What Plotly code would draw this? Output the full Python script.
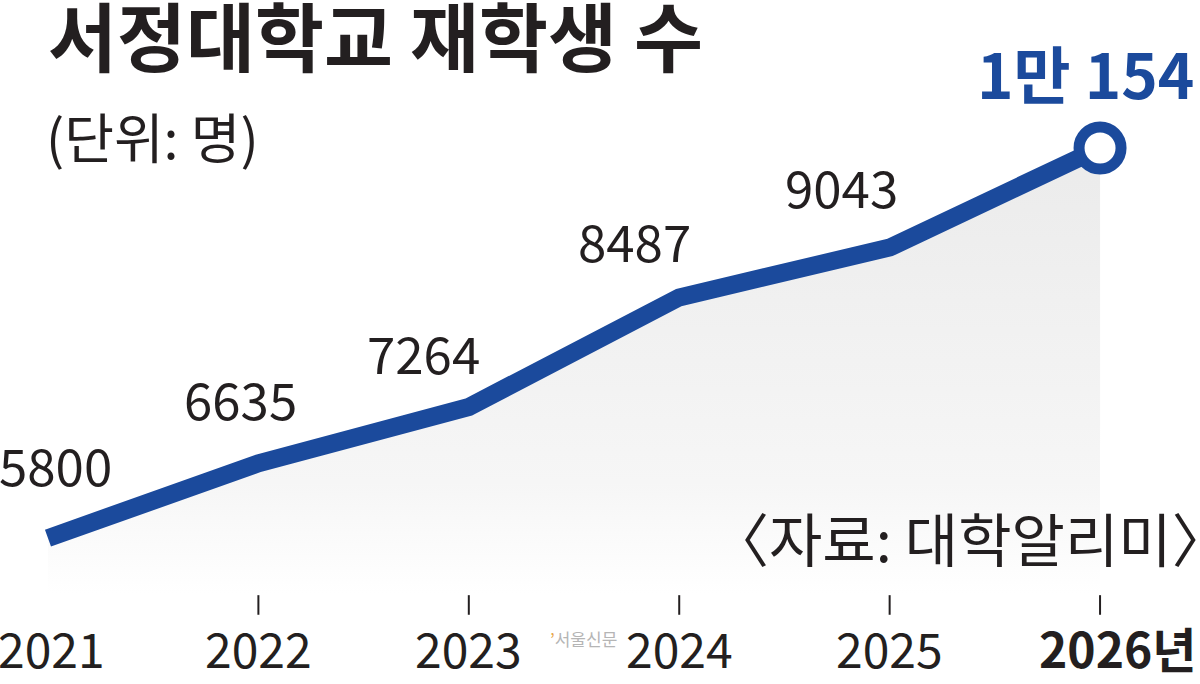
import plotly.graph_objects as go

# 서정대학교 재학생 수 (단위: 명)
years = [2021, 2022, 2023, 2024, 2025, 2026]
students = [5800, 6635, 7264, 8487, 9043, 10154]
value_labels = ["5800", "6635", "7264", "8487", "9043", "1만 154"]
year_labels = ["2021", "2022", "2023", "2024", "2025", "2026년"]

BLUE = "#1b4a9c"
INK = "#231f20"
KR_FONT = "Noto Sans CJK KR"

y_lo, y_hi = 4172, 11806
base = 5180  # bottom of the shaded area
tick_y = 5054  # level of the small tick marks

# label nudges (px) relative to each point
label_dx = [8, -18, -45, -45, -48, -15]
label_dy = [74, 65, 55, 57, 62, 76]

fig = go.Figure()

# shaded area under the line
fig.add_trace(go.Scatter(x=years, y=[base] * len(years), mode="lines",
                         line=dict(width=0, color="rgba(0,0,0,0)"),
                         hoverinfo="skip", showlegend=False))
fig.add_trace(go.Scatter(x=years, y=students, mode="lines", fill="tonexty",
                         line=dict(width=0, color="rgba(0,0,0,0)"),
                         fillgradient=dict(type="vertical",
                                           colorscale=[[0, "rgba(255,255,255,1)"],
                                                       [0.25, "#f6f6f6"],
                                                       [1, "#ebebeb"]]),
                         hoverinfo="skip", showlegend=False))

# main line
fig.add_trace(go.Scatter(x=years, y=students, mode="lines",
                         line=dict(color=BLUE, width=18, shape="linear"),
                         showlegend=False))

# last point: open circle
fig.add_trace(go.Scatter(x=years[-1:], y=students[-1:], mode="markers",
                         marker=dict(size=42, color="white",
                                     line=dict(color=BLUE, width=11)),
                         showlegend=False))

# small tick marks above year labels (none under the first year)
fig.add_trace(go.Scatter(x=years[1:], y=[tick_y] * (len(years) - 1), mode="markers",
                         marker=dict(symbol="line-ns", size=14,
                                     line=dict(color=INK, width=2)),
                         hoverinfo="skip", showlegend=False))

annotations = []
for i, (yr, v, lab) in enumerate(zip(years, students, value_labels)):
    last = i == len(years) - 1
    annotations.append(dict(x=yr, y=v, text="<b>" + lab + "</b>" if last else lab,
                            showarrow=False, xanchor="center", yanchor="middle",
                            xshift=label_dx[i], yshift=label_dy[i],
                            font=dict(family=KR_FONT, size=62 if last else 51,
                                      color=BLUE if last else INK)))

for i, (yr, lab) in enumerate(zip(years, year_labels)):
    last = i == len(years) - 1
    annotations.append(dict(x=yr, y=0, yref="paper", text="<b>" + lab + "</b>" if last else lab,
                            showarrow=False, xanchor="center", yanchor="bottom",
                            xshift=4 if i == 0 else (17 if last else 0),
                            font=dict(family=KR_FONT, size=48, color=INK)))

annotations += [
    dict(xref="paper", yref="paper", x=46 / 1200, y=1 - 33 / 684, text="<b>서정대학교 재학생 수</b>",
         showarrow=False, xanchor="left", yanchor="middle",
         font=dict(family=KR_FONT, size=75, color=INK)),
    dict(xref="paper", yref="paper", x=44 / 1200, y=1 - 135 / 684, text="(단위: 명)",
         showarrow=False, xanchor="left", yanchor="middle",
         font=dict(family=KR_FONT, size=54, color=INK)),
    dict(xref="paper", yref="paper", x=1198 / 1200, y=1 - 537 / 684, text="〈자료: 대학알리미〉",
         showarrow=False, xanchor="right", yanchor="middle", xshift=34,
         font=dict(family=KR_FONT, size=58, color=INK)),
    dict(xref="paper", yref="paper", x=548 / 1200, y=1 - 638 / 684,
         text="<span style='color:#e8a64a'>’</span>서울신문",
         showarrow=False, xanchor="left", yanchor="middle",
         font=dict(family=KR_FONT, size=17, color="#b5b5b5")),
]

fig.update_layout(
    width=1200, height=684,
    margin=dict(l=0, r=0, t=0, b=0),
    paper_bgcolor="white", plot_bgcolor="white",
    xaxis=dict(range=[2020.772, 2026.475], visible=False, fixedrange=True),
    yaxis=dict(range=[y_lo, y_hi], visible=False, fixedrange=True),
    annotations=annotations,
    showlegend=False,
)

fig.write_html("out.html", config={"displayModeBar": False},
               post_script="document.body.style.margin='0';document.body.style.overflow='hidden';")
